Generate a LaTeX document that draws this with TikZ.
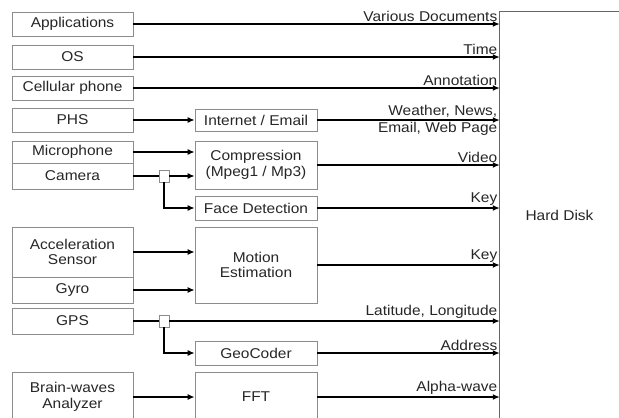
\documentclass[tikz,border=0pt]{standalone}
\usepackage{fontspec}
\setmainfont{Liberation Sans}[FakeStretch=1.09]
\usetikzlibrary{arrows.meta,positioning,calc}

\begin{document}
\begin{tikzpicture}[
  x=1pt,y=-1pt,
  box/.style={draw=black!45, line width=0.7pt, align=center, inner sep=1pt, font=\fontsize{14.2}{15.5}\selectfont, text=black!85},
  lbox/.style={box, minimum width=121pt},
  mbox/.style={box, minimum width=122pt},
  junc/.style={draw=black!45, fill=white, line width=0.7pt, minimum width=10pt, minimum height=12pt, inner sep=0pt},
  arr/.style={-{Latex[length=7pt,width=6pt]}, line width=2pt},
  wire/.style={line width=2pt},
  lab/.style={font=\fontsize{14.2}{15.5}\selectfont, text=black!85, inner sep=1.5pt}
]
\useasboundingbox (0,0) rectangle (619,418);
\node[lbox, minimum height=24pt] (apps) at (72.5,24) {Applications};
\node[lbox, minimum height=24pt] (os) at (72.5,57) {OS};
\node[lbox, minimum height=24pt] (cell) at (72.5,88) {Cellular phone};
\node[lbox, minimum height=24pt] (phs) at (72.5,120) {PHS};
\node[lbox, minimum height=22pt] (mic) at (72.5,152) {Microphone};
\node[lbox, minimum height=26pt] (cam) at (72.5,176) {Camera};
\node[lbox, minimum height=50pt] (acc) at (72.5,252) {Acceleration\\Sensor};
\node[lbox, minimum height=26pt] (gyro) at (72.5,290) {Gyro};
\node[lbox, minimum height=26pt] (gps) at (72.5,321) {GPS};
\node[lbox, minimum height=50pt] (brain) at (72.5,397) {Brain-waves\\Analyzer};
\node[mbox, minimum height=22pt] (inet) at (256,120) {Internet / Email};
\node[mbox, minimum height=48pt] (comp) at (256,165) {Compression\\(Mpeg1 / Mp3)};
\node[mbox, minimum height=24pt] (face) at (256,208) {Face Detection};
\node[mbox, minimum height=76pt] (motion) at (256,265) {Motion\\Estimation};
\node[mbox, minimum height=24pt] (geo) at (256,353) {GeoCoder};
\node[mbox, minimum height=50pt] (fft) at (256,397) {FFT};
\node[junc] (jcam) at (164,176) {};
\node[junc] (jgps) at (164,321) {};
\node[lab, minimum width=119pt, minimum height=406pt] (disk) at (559.5,215) {Hard Disk};
\draw[black!60, line width=0.7pt] (disk.south west) -- (disk.north west) -- (disk.north east);
\draw[arr] (apps.east) -- (apps.east -| disk.west) node[lab, pos=1, above left] {Various Documents};
\draw[arr] (os.east) -- (os.east -| disk.west) node[lab, pos=1, above left] {Time};
\draw[arr] (cell.east) -- (cell.east -| disk.west) node[lab, pos=1, above left] {Annotation};
\draw[arr] (phs.east) -- (phs.east -| inet.west);
\draw[arr] (inet.east) -- (inet.east -| disk.west) node[lab, pos=1, above left] {Weather, News,}
  node[lab, pos=1, below left] {Email, Web Page};
\draw[arr] (mic.east) -- (mic.east -| comp.west);
\draw[wire] (cam.east) -- (jcam.west);
\draw[arr] (jcam.east) -- (jcam.east -| comp.west);
\draw[arr] (jcam.south) |- (face.west);
\draw[arr] (comp.east) -- (comp.east -| disk.west) node[lab, pos=1, above left] {Video};
\draw[arr] (face.east) -- (face.east -| disk.west) node[lab, pos=1, above left] {Key};
\draw[arr] (acc.east) -- (acc.east -| motion.west);
\draw[arr] (gyro.east) -- (gyro.east -| motion.west);
\draw[arr] (motion.east) -- (motion.east -| disk.west) node[lab, pos=1, above left] {Key};
\draw[wire] (gps.east) -- (jgps.west);
\draw[arr] (jgps.east) -- (jgps.east -| disk.west) node[lab, pos=1, above left] {Latitude, Longitude};
\draw[arr] (jgps.south) |- (geo.west);
\draw[arr] (geo.east) -- (geo.east -| disk.west) node[lab, pos=1, above left] {Address};
\draw[arr] (brain.east) -- (brain.east -| fft.west);
\draw[arr] (fft.east) -- (fft.east -| disk.west) node[lab, pos=1, above left] {Alpha-wave};
\end{tikzpicture}
\end{document}
